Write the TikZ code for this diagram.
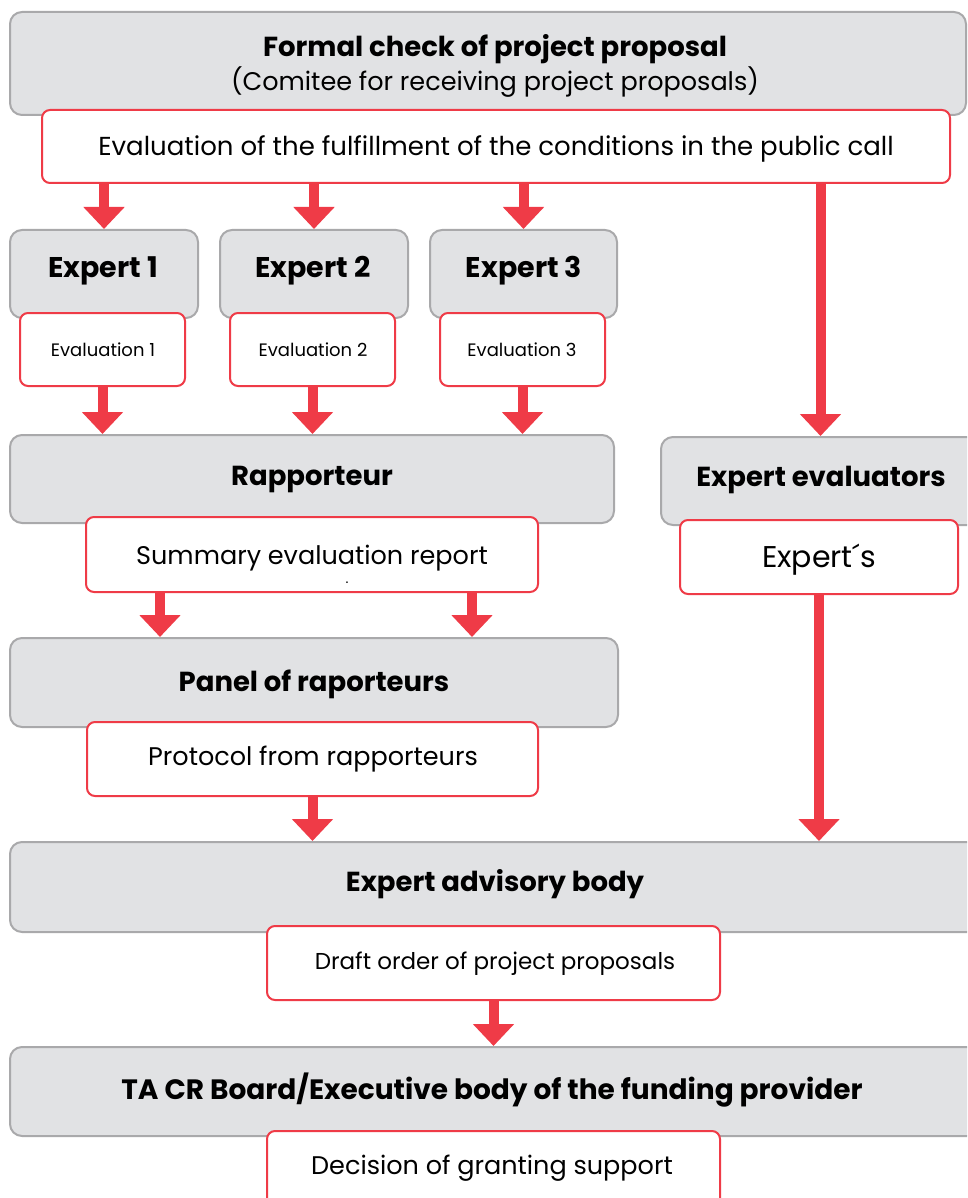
\documentclass[tikz,border=0pt]{standalone}
\usepackage{fontspec}
\setmainfont{Poppins}
\usetikzlibrary{arrows.meta}
\definecolor{rd}{HTML}{EF3B47}
\definecolor{gfill}{HTML}{E1E2E4}
\definecolor{gline}{HTML}{A9A9AB}
\tikzset{
  gbox/.style={draw=gline, fill=gfill, line width=2pt, rounded corners=12pt, inner sep=0pt},
  wbox/.style={draw=rd, fill=white, line width=2pt, rounded corners=8pt, inner sep=0pt},
  arr/.style={draw=rd, line width=10pt, -{Triangle[width=40pt,length=22pt]}},
  bt/.style={inner sep=0pt, yshift=-3pt, font=\fontsize{27.5}{32}\selectfont\bfseries},
  nt/.style={inner sep=0pt, yshift=-2pt, font=\fontsize{25.5}{30}\selectfont},
  st/.style={inner sep=0pt, yshift=-1pt, font=\fontsize{18}{21}\selectfont},
  mt/.style={inner sep=0pt, yshift=-2pt, font=\fontsize{23}{27}\selectfont},
}
\begin{document}
\begin{tikzpicture}[x=1pt,y=-1pt]
\useasboundingbox (0,0) rectangle (967,1198);
\clip (0,0) rectangle (967,1198);
% top
\node[gbox, minimum width=956pt, minimum height=103pt] (top) at (488,63.5) {};
\node[bt] (toptxt) at (495,46) {Formal check of project proposal};
\node[nt] (topsub) at (495,80) {(Comitee for receiving project proposals)};
\node[wbox, minimum width=908pt, minimum height=73pt] (tw) at (496,146.5) {};
\node[nt, font=\fontsize{26}{30}\selectfont] (twtxt) at (496,147) {Evaluation of the fulfillment of the conditions in the public call};
% experts
\node[gbox, minimum width=188pt, minimum height=88pt] (ex1) at (104,274) {};
\node[gbox, minimum width=188pt, minimum height=88pt] (ex2) at (314,274) {};
\node[gbox, minimum width=187pt, minimum height=88pt] (ex3) at (523.5,274) {};
\node[bt, font=\fontsize{28.5}{32}\selectfont\bfseries] (ex1t) at (103,268) {Expert 1};
\node[bt, font=\fontsize{28.5}{32}\selectfont\bfseries] (ex2t) at (313,268) {Expert 2};
\node[bt, font=\fontsize{28.5}{32}\selectfont\bfseries] (ex3t) at (524,268) {Expert 3};
\node[wbox, minimum width=165pt, minimum height=73pt] (ev1) at (102.5,349.5) {};
\node[wbox, minimum width=165pt, minimum height=73pt] (ev2) at (312.5,349.5) {};
\node[wbox, minimum width=165pt, minimum height=73pt] (ev3) at (522.5,349.5) {};
\node[st] (ev1t) at (103,349) {Evaluation 1};
\node[st] (ev2t) at (313,349) {Evaluation 2};
\node[st] (ev3t) at (522,349) {Evaluation 3};
% rapporteur
\node[gbox, minimum width=604pt, minimum height=88pt] (rap) at (312,479) {};
\node[bt] (rapt) at (312,477) {Rapporteur};
\node[wbox, minimum width=452pt, minimum height=75pt] (sum) at (312,554.5) {};
\node[nt] (sumt) at (312,556) {Summary evaluation report};
\node[inner sep=0pt, font=\fontsize{14}{14}\selectfont] (sumdot) at (347,583) {.};
% expert evaluators
\node[gbox, minimum width=319pt, minimum height=88pt] (ee) at (820.5,481) {};
\node[bt] (eet) at (821,477) {Expert evaluators};
\node[wbox, minimum width=278pt, minimum height=74pt] (es) at (819,557) {};
\node[nt, font=\fontsize{30}{34}\selectfont] (est) at (819,558) {Expert´s};
% panel
\node[gbox, minimum width=608pt, minimum height=89pt] (pan) at (314,682.5) {};
\node[bt] (pant) at (314,681) {Panel of raporteurs};
\node[wbox, minimum width=451pt, minimum height=74pt] (pro) at (312.5,759) {};
\node[nt] (prot) at (313,757) {Protocol from rapporteurs};
% advisory body
\node[gbox, minimum width=970pt, minimum height=90pt] (eab) at (495,887) {};
\node[bt] (eabt) at (495,881) {Expert advisory body};
\node[wbox, minimum width=453pt, minimum height=74pt] (dr) at (493.5,963) {};
\node[mt] (drt) at (495,962) {Draft order of project proposals};
% board
\node[gbox, minimum width=970pt, minimum height=89pt] (bd) at (495,1091.5) {};
\node[bt, font=\fontsize{28}{32}\selectfont\bfseries] (bdt) at (492,1087) {TA CR Board/Executive body of the funding provider};
\node[wbox, minimum width=453pt, minimum height=84pt] (dec) at (493.5,1173) {};
\node[nt] (dect) at (492,1166) {Decision of granting support};
% arrows
\draw[arr] (tw.south -| ex1.north) -- (ex1.north);
\draw[arr] (tw.south -| ex2.north) -- (ex2.north);
\draw[arr] (tw.south -| ex3.north) -- (ex3.north);
\draw[arr] (tw.south -| ee.north) -- (ee.north);
\draw[arr] (ev1.south) -- (ev1.south |- rap.north);
\draw[arr] (ev2.south) -- (ev2.south |- rap.north);
\draw[arr] (ev3.south) -- (ev3.south |- rap.north);
\draw[arr] ([xshift=-152pt]sum.south) -- ([xshift=-152pt]sum.south |- pan.north);
\draw[arr] ([xshift=160pt]sum.south) -- ([xshift=160pt]sum.south |- pan.north);
\draw[arr] (pro.south) -- (pro.south |- eab.north);
\draw[arr] (es.south) -- (es.south |- eab.north);
\draw[arr] (dr.south) -- (dr.south |- bd.north);
\end{tikzpicture}
\end{document}
